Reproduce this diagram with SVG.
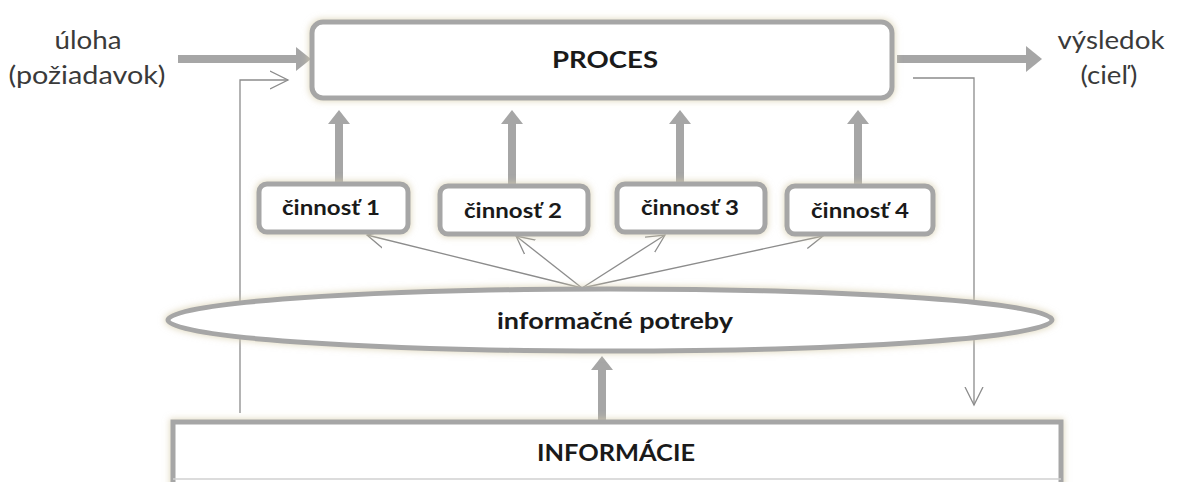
<svg xmlns="http://www.w3.org/2000/svg" width="1179" height="482" viewBox="0 0 1179 482">
  <style>
    .node { fill: #ffffff; stroke: #a6a6a6; stroke-width: 5; filter: url(#glow); }
    .thick { stroke: #a6a6a6; stroke-width: 8; fill: none; }
    .thin { stroke: #8c8c8c; stroke-width: 1.3; fill: none; }
    .head { fill: #a6a6a6; }
    .lbl { font-family: Lato, "Open Sans", "Liberation Sans", sans-serif; font-weight: bold; fill: #1a1a1a; text-anchor: middle; }
    .side { font-family: Lato, "Open Sans", "Liberation Sans", sans-serif; fill: #3a3a3a; text-anchor: middle; font-size: 25px; }
  </style>
  <defs>
    <filter id="glow" x="-10%" y="-30%" width="120%" height="160%">
      <feMorphology in="SourceAlpha" operator="dilate" radius="1" result="d"/>
      <feGaussianBlur in="d" stdDeviation="3" result="b"/>
      <feFlood flood-color="#d8cfae" flood-opacity="0.7"/>
      <feComposite in2="b" operator="in" result="s"/>
      <feMerge><feMergeNode in="s"/><feMergeNode in="SourceGraphic"/></feMerge>
    </filter>
    <marker id="open" viewBox="0 0 20 20" refX="18" refY="10" markerWidth="20" markerHeight="20" markerUnits="userSpaceOnUse" orient="auto">
      <path d="M0,1 L18,10 L0,19" fill="none" stroke="#8c8c8c" stroke-width="1.3"/>
    </marker>
  </defs>

  <rect width="1179" height="482" fill="#ffffff"/>

  <g id="connectors">
    <line class="thick" x1="178" y1="59" x2="298" y2="59" stroke-width="10"/>
    <polygon class="head" points="296,47 311,59 296,71"/>
    <line class="thick" x1="897" y1="59" x2="1028" y2="59" stroke-width="10"/>
    <polygon class="head" points="1026,46 1042,59 1026,72"/>
    <line class="thick" x1="339" y1="182" x2="339" y2="122"/>
    <polygon class="head" points="328,124 339,110 350,124"/>
    <line class="thick" x1="512" y1="184" x2="512" y2="122"/>
    <polygon class="head" points="501,124 512,110 523,124"/>
    <line class="thick" x1="680" y1="182" x2="680" y2="122"/>
    <polygon class="head" points="669,124 680,110 691,124"/>
    <line class="thick" x1="858" y1="184" x2="858" y2="122"/>
    <polygon class="head" points="847,124 858,110 869,124"/>
    <line class="thick" x1="602" y1="421" x2="602" y2="368"/>
    <polygon class="head" points="591,370 602,356 613,370"/>
    <line class="thin" x1="582" y1="288" x2="367" y2="235" marker-end="url(#open)"/>
    <line class="thin" x1="582" y1="288" x2="516" y2="236" marker-end="url(#open)"/>
    <line class="thin" x1="582" y1="288" x2="665" y2="235" marker-end="url(#open)"/>
    <line class="thin" x1="582" y1="288" x2="823" y2="236" marker-end="url(#open)"/>
    <polyline class="thin" points="240,413 240,80 288,80" marker-end="url(#open)"/>
    <polyline class="thin" points="913,78 974,78 974,405" marker-end="url(#open)"/>
  </g>

  <g id="uloha">
    <text class="side" x="88" y="49" textLength="67" lengthAdjust="spacingAndGlyphs">úloha</text>
    <text class="side" x="87" y="84" textLength="157" lengthAdjust="spacingAndGlyphs">(požiadavok)</text>
  </g>
  <g id="vysledok">
    <text class="side" x="1111" y="49" textLength="107" lengthAdjust="spacingAndGlyphs">výsledok</text>
    <text class="side" x="1109" y="84" textLength="57" lengthAdjust="spacingAndGlyphs">(cieľ)</text>
  </g>

  <g id="proces">
    <rect class="node" x="312" y="22" width="580" height="76" rx="11"/>
    <text class="lbl" x="605" y="68" font-size="23" textLength="106" lengthAdjust="spacingAndGlyphs">PROCES</text>
  </g>

  <g id="cinnost1">
    <rect class="node" x="259" y="184" width="149" height="48" rx="8"/>
    <text class="lbl" x="331" y="215" font-size="20" textLength="98" lengthAdjust="spacingAndGlyphs">činnosť 1</text>
  </g>
  <g id="cinnost2">
    <rect class="node" x="440" y="186" width="148" height="48" rx="8"/>
    <text class="lbl" x="513" y="218" font-size="20" textLength="98" lengthAdjust="spacingAndGlyphs">činnosť 2</text>
  </g>
  <g id="cinnost3">
    <rect class="node" x="617" y="184" width="148" height="48" rx="8"/>
    <text class="lbl" x="690" y="215" font-size="20" textLength="98" lengthAdjust="spacingAndGlyphs">činnosť 3</text>
  </g>
  <g id="cinnost4">
    <rect class="node" x="787" y="186" width="146" height="48" rx="8"/>
    <text class="lbl" x="860" y="218" font-size="20" textLength="98" lengthAdjust="spacingAndGlyphs">činnosť 4</text>
  </g>

  <g id="potreby">
    <ellipse class="node" cx="610" cy="320" rx="442" ry="31"/>
    <text class="lbl" x="615" y="329" font-size="23" textLength="236" lengthAdjust="spacingAndGlyphs">informačné potreby</text>
  </g>

  <g id="informacie">
    <rect class="node" x="173" y="422" width="888" height="90"/>
    <line x1="173" y1="479" x2="1061" y2="479" stroke="#d0d0d0" stroke-width="1.5"/>
    <text class="lbl" x="616" y="461" font-size="22" textLength="158" lengthAdjust="spacingAndGlyphs">INFORMÁCIE</text>
  </g>
</svg>
